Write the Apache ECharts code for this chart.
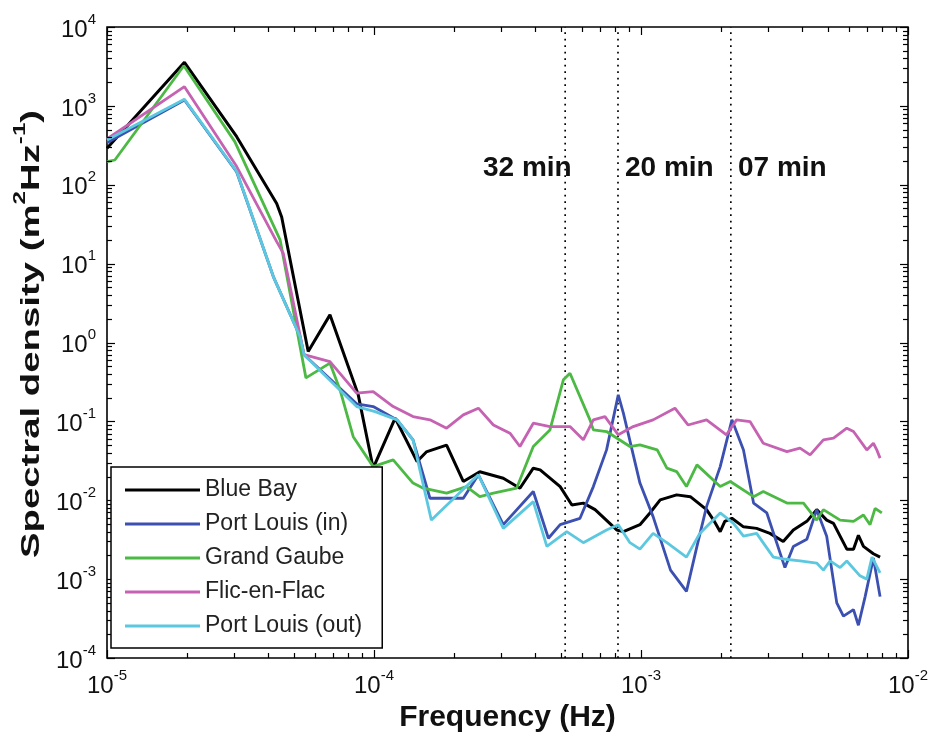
<!DOCTYPE html>
<html>
<head>
<meta charset="utf-8">
<script src="https://cdn.jsdelivr.net/npm/echarts@6.0.0/dist/echarts.min.js"></script>
<style>
html,body{margin:0;padding:0;background:#fff;}
#chart{width:931px;height:742px;}
</style>
</head>
<body>
<div id="chart"></div>
<script>
// ---------------- data ----------------
const seriesNames = ['Blue Bay', 'Port Louis (in)', 'Grand Gaube', 'Flic-en-Flac', 'Port Louis (out)'];
const seriesColors = ['#000000', '#3b50b0', '#4cb944', '#c662b2', '#5cc8e0'];

const blueBayFreq = [1.0e-5, 1.95e-5, 3.06e-5, 4.32e-5, 4.51e-5, 5.67e-5, 6.84e-5, 8.73e-5, 9.93e-5, 1.2e-4, 1.45e-4, 1.57e-4, 1.87e-4, 2.16e-4, 2.49e-4, 3.05e-4, 3.52e-4, 3.95e-4, 4.19e-4, 4.98e-4, 5.51e-4, 6.08e-4, 6.73e-4, 8.11e-4, 8.59e-4, 9.91e-4, 1.08e-3, 1.18e-3, 1.36e-3, 1.53e-3, 1.76e-3, 1.87e-3, 1.98e-3, 2.06e-3, 2.19e-3, 2.42e-3, 2.71e-3, 3.04e-3, 3.41e-3, 3.72e-3, 4.18e-3, 4.55e-3, 4.96e-3, 5.26e-3, 5.90e-3, 6.25e-3, 6.52e-3, 6.81e-3, 7.42e-3, 7.86e-3];
const blueBayPsd = [290, 3570, 407, 58, 39, 0.77, 2.24, 0.217, 0.0255, 0.11, 0.031, 0.041, 0.050, 0.0173, 0.023, 0.019, 0.0142, 0.0255, 0.0243, 0.0149, 0.0087, 0.0092, 0.0076, 0.0042, 0.0040, 0.0049, 0.0069, 0.0101, 0.0117, 0.0111, 0.0076, 0.0056, 0.0040, 0.0054, 0.0059, 0.0046, 0.0044, 0.0038, 0.0030, 0.0042, 0.0054, 0.0076, 0.0056, 0.0051, 0.0024, 0.0024, 0.0036, 0.0026, 0.0021, 0.0019];

const portInFreq = [1.0e-5, 1.95e-5, 3.06e-5, 4.20e-5, 5.28e-5, 5.47e-5, 8.61e-5, 9.93e-5, 1.22e-4, 1.40e-4, 1.62e-4, 1.93e-4, 2.16e-4, 2.46e-4, 3.05e-4, 3.95e-4, 4.50e-4, 4.98e-4, 5.91e-4, 6.63e-4, 7.43e-4, 8.22e-4, 8.59e-4, 9.91e-4, 1.11e-3, 1.29e-3, 1.48e-3, 1.62e-3, 1.76e-3, 1.98e-3, 2.19e-3, 2.42e-3, 2.64e-3, 2.96e-3, 3.46e-3, 3.72e-3, 4.18e-3, 4.55e-3, 4.96e-3, 5.41e-3, 5.73e-3, 6.25e-3, 6.52e-3, 6.91e-3, 7.42e-3, 7.86e-3];
const portInPsd = [340, 1190, 145, 6.8, 1.2, 0.70, 0.167, 0.154, 0.1045, 0.0583, 0.0106, 0.0106, 0.0106, 0.021, 0.0049, 0.0129, 0.0033, 0.0049, 0.0059, 0.0149, 0.0435, 0.217, 0.127, 0.0165, 0.0062, 0.0013, 0.0007, 0.0026, 0.0083, 0.0267, 0.1045, 0.0435, 0.0092, 0.0069, 0.0014, 0.0026, 0.0032, 0.0076, 0.0035, 0.0005, 0.00034, 0.00041, 0.00026, 0.0006, 0.00185, 0.0006];

const grandGaubeFreq = [1.0e-5, 1.07e-5, 1.94e-5, 3.01e-5, 4.45e-5, 5.56e-5, 6.84e-5, 7.46e-5, 8.36e-5, 9.93e-5, 1.18e-4, 1.40e-4, 1.53e-4, 1.87e-4, 2.22e-4, 2.49e-4, 2.80e-4, 3.42e-4, 3.95e-4, 4.56e-4, 5.12e-4, 5.42e-4, 6.44e-4, 6.63e-4, 7.43e-4, 9.09e-4, 9.91e-4, 1.15e-3, 1.25e-3, 1.36e-3, 1.48e-3, 1.62e-3, 1.98e-3, 2.16e-3, 2.64e-3, 2.87e-3, 3.52e-3, 4.06e-3, 4.55e-3, 4.82e-3, 5.57e-3, 6.25e-3, 6.81e-3, 7.21e-3, 7.53e-3, 7.98e-3];
const grandGaubePsd = [196, 206, 3230, 352, 20, 0.356, 0.547, 0.251, 0.064, 0.0267, 0.0325, 0.0165, 0.0142, 0.0123, 0.0149, 0.0111, 0.0123, 0.0142, 0.048, 0.078, 0.336, 0.408, 0.1045, 0.078, 0.0743, 0.048, 0.0504, 0.0435, 0.0255, 0.0231, 0.0149, 0.0281, 0.0149, 0.0173, 0.0111, 0.0129, 0.0092, 0.0092, 0.0056, 0.0076, 0.0056, 0.0054, 0.0065, 0.0049, 0.0079, 0.0069];

const flicFreq = [1.0e-5, 1.95e-5, 3.06e-5, 4.32e-5, 4.57e-5, 5.47e-5, 6.84e-5, 8.61e-5, 9.93e-5, 1.18e-4, 1.40e-4, 1.62e-4, 1.87e-4, 2.16e-4, 2.46e-4, 2.80e-4, 3.23e-4, 3.52e-4, 3.95e-4, 4.56e-4, 5.42e-4, 6.08e-4, 6.63e-4, 7.33e-4, 8.22e-4, 9.35e-4, 1.11e-3, 1.34e-3, 1.50e-3, 1.76e-3, 2.09e-3, 2.28e-3, 2.56e-3, 2.87e-3, 3.52e-3, 3.94e-3, 4.30e-3, 4.82e-3, 5.26e-3, 5.90e-3, 6.25e-3, 7.01e-3, 7.42e-3, 7.64e-3, 7.86e-3];
const flicPsd = [380, 1750, 170, 19, 13.6, 0.70, 0.573, 0.228, 0.239, 0.154, 0.115, 0.1045, 0.082, 0.121, 0.147, 0.090, 0.0708, 0.048, 0.0948, 0.0859, 0.0859, 0.0583, 0.1045, 0.115, 0.0675, 0.0859, 0.1045, 0.147, 0.090, 0.1045, 0.0675, 0.1045, 0.0994, 0.0528, 0.0414, 0.0457, 0.0376, 0.0583, 0.0612, 0.082, 0.0743, 0.0435, 0.0528, 0.0435, 0.0342];

const portOutFreq = [1.0e-5, 1.95e-5, 3.06e-5, 4.20e-5, 5.28e-5, 5.47e-5, 8.61e-5, 1.01e-4, 1.22e-4, 1.40e-4, 1.64e-4, 2.46e-4, 3.05e-4, 3.95e-4, 4.44e-4, 5.27e-4, 6.08e-4, 7.43e-4, 8.22e-4, 9.09e-4, 9.91e-4, 1.11e-3, 1.25e-3, 1.48e-3, 1.66e-3, 1.98e-3, 2.22e-3, 2.42e-3, 2.71e-3, 3.13e-3, 3.41e-3, 3.94e-3, 4.55e-3, 4.82e-3, 5.11e-3, 5.57e-3, 5.90e-3, 6.61e-3, 7.01e-3, 7.33e-3, 7.86e-3];
const portOutPsd = [370, 1210, 147, 6.8, 1.19, 0.70, 0.154, 0.133, 0.1045, 0.0583, 0.0056, 0.021, 0.0044, 0.0096, 0.0026, 0.0040, 0.0029, 0.0042, 0.0049, 0.0029, 0.0024, 0.0038, 0.0029, 0.0019, 0.0038, 0.0069, 0.0051, 0.0035, 0.0038, 0.0019, 0.0018, 0.0017, 0.0016, 0.0013, 0.0017, 0.0014, 0.0017, 0.0011, 0.0010, 0.0019, 0.0012];

// dotted period markers and their labels
const periodFreqs = [5.2e-4, 8.2e-4, 2.17e-3];
const periodLabels = ['32 min', '20 min', '07 min'];

// axis ranges (decades)
const xExpMin = -5, xExpMax = -2;
const yExpMin = -4, yExpMax = 4;

// ---------------- build ----------------
const freqs = [blueBayFreq, portInFreq, grandGaubeFreq, flicFreq, portOutFreq];
const psds = [blueBayPsd, portInPsd, grandGaubePsd, flicPsd, portOutPsd];

function pairs(f, s) { return f.map((v, i) => [v, s[i]]); }

// tick positions for log axes (major length 8, minor 5)
const xTicks = [];
for (let k = xExpMin; k < xExpMax; k++) for (let m = 1; m <= 9; m++) xTicks.push([m * Math.pow(10, k), 1, m === 1 ? 8 : 5]);
xTicks.push([Math.pow(10, xExpMax), 1, 8]);
const yTicks = [];
for (let k = yExpMin; k < yExpMax; k++) for (let m = 1; m <= 9; m++) yTicks.push([1e-4, m * Math.pow(10, k), m === 1 ? 8 : 5]);
yTicks.push([1e-4, Math.pow(10, yExpMax), 8]);

const FONT = "'Liberation Sans', Arial, Helvetica, sans-serif";

function expLabel(v) {
  const e = Math.round(Math.log10(v));
  return '{b|10}{s|' + e + '}';
}
const labelRich = {
  b: { fontSize: 24, fontFamily: FONT, color: '#111', verticalAlign: 'bottom', lineHeight: 30 },
  s: { fontSize: 15, fontFamily: FONT, color: '#111', verticalAlign: 'top', lineHeight: 15 }
};

const chart = echarts.init(document.getElementById('chart'), null, { renderer: 'canvas' });

const yMinVal = Math.pow(10, yExpMin), yMaxVal = Math.pow(10, yExpMax);

const periodSeries = periodFreqs.map((f, i) => ({
  name: 'period' + i,
  type: 'line',
  data: [[f, yMinVal], [f, yMaxVal]],
  showSymbol: false,
  symbol: 'none',
  silent: true,
  z: 1,
  lineStyle: { color: '#000', width: 1.7, type: [1.7, 4.8] },
  emphasis: { disabled: true }
}));

const lineSeries = seriesNames.map((name, i) => ({
  name: name,
  type: 'line',
  data: pairs(freqs[i], psds[i]),
  showSymbol: false,
  symbol: 'none',
  smooth: false,
  clip: true,
  z: 3 + i,
  lineStyle: { color: seriesColors[i], width: i === 0 ? 3 : 2.8 },
  itemStyle: { color: seriesColors[i] },
  emphasis: { disabled: true }
}));

function tickRender(horizontal) {
  return function (params, api) {
    const cs = params.coordSys;
    const p = api.coord([api.value(0), api.value(1)]);
    const len = api.value(2);
    const st = { stroke: '#000', lineWidth: 1.2 };
    if (horizontal) {
      const x = Math.round(p[0]) + 0.5;
      return { type: 'group', children: [
        { type: 'line', shape: { x1: x, y1: cs.y + cs.height, x2: x, y2: cs.y + cs.height - len }, style: st },
        { type: 'line', shape: { x1: x, y1: cs.y, x2: x, y2: cs.y + len }, style: st }
      ]};
    } else {
      const y = Math.round(p[1]) + 0.5;
      return { type: 'group', children: [
        { type: 'line', shape: { x1: cs.x, y1: y, x2: cs.x + len, y2: y }, style: st },
        { type: 'line', shape: { x1: cs.x + cs.width, y1: y, x2: cs.x + cs.width - len, y2: y }, style: st }
      ]};
    }
  };
}

const option = {
  backgroundColor: '#ffffff',
  animation: false,
  grid: {
    left: 107, right: 23, top: 27, bottom: 84,
    show: true, borderColor: '#000', borderWidth: 1.6, backgroundColor: 'transparent',
    outerBoundsMode: 'none'
  },
  xAxis: {
    type: 'log', logBase: 10,
    min: Math.pow(10, xExpMin), max: Math.pow(10, xExpMax),
    splitNumber: xExpMax - xExpMin,
    axisLine: { show: false },
    axisTick: { show: false },
    splitLine: { show: false },
    minorTick: { show: false },
    axisLabel: { formatter: expLabel, rich: labelRich, margin: 10, showMinLabel: true, showMaxLabel: true, hideOverlap: false },
    name: 'Frequency (Hz)',
    nameLocation: 'middle',
    nameGap: 43,
    nameTextStyle: { fontSize: 30, fontWeight: 'bold', fontFamily: FONT, color: '#111' }
  },
  yAxis: {
    type: 'log', logBase: 10,
    min: yMinVal, max: yMaxVal,
    splitNumber: yExpMax - yExpMin,
    axisLine: { show: false },
    axisTick: { show: false },
    splitLine: { show: false },
    minorTick: { show: false },
    axisLabel: { formatter: expLabel, rich: labelRich, margin: 11, showMinLabel: true, showMaxLabel: true, hideOverlap: false }
  },
  legend: {
    data: seriesNames,
    orient: 'vertical',
    left: 111, top: 467,
    icon: 'rect',
    itemWidth: 75, itemHeight: 3,
    itemGap: 10,
    padding: [11, 20, 10, 14],
    backgroundColor: '#ffffff',
    borderColor: '#000', borderWidth: 1.5, borderRadius: 0,
    selectedMode: false,
    z: 20,
    textStyle: { fontSize: 23, fontFamily: FONT, color: '#222', lineHeight: 24 }
  },
  graphic: [
    {
      type: 'text', x: 29, y: 334, rotation: Math.PI / 2, scaleX: 1.42, scaleY: 0.95, z: 50,
      style: {
        text: '{t|Spectral density (m}{s|2}{t|Hz}{s|-1}{t|)}',
        align: 'center', verticalAlign: 'middle', textAlign: 'center', textVerticalAlign: 'middle',
        rich: {
          t: { fontSize: 27, fontWeight: 'bold', fontFamily: FONT, fill: '#111', verticalAlign: 'bottom', lineHeight: 34 },
          s: { fontSize: 17, fontWeight: 'bold', fontFamily: FONT, fill: '#111', verticalAlign: 'top', lineHeight: 17 }
        }
      }
    },
    { type: 'text', x: 483, y: 168, z: 50, style: { text: periodLabels[0], font: 'bold 28px ' + FONT, fill: '#111', align: 'left', verticalAlign: 'middle', textVerticalAlign: 'middle' } },
    { type: 'text', x: 625, y: 168, z: 50, style: { text: periodLabels[1], font: 'bold 28px ' + FONT, fill: '#111', align: 'left', verticalAlign: 'middle', textVerticalAlign: 'middle' } },
    { type: 'text', x: 738, y: 168, z: 50, style: { text: periodLabels[2], font: 'bold 28px ' + FONT, fill: '#111', align: 'left', verticalAlign: 'middle', textVerticalAlign: 'middle' } }
  ],
  series: periodSeries.concat(lineSeries).concat([
    { type: 'custom', name: 'xticks', data: xTicks, renderItem: tickRender(true), silent: true, clip: false, z: 10, encode: { x: 0, y: 1 } },
    { type: 'custom', name: 'yticks', data: yTicks, renderItem: tickRender(false), silent: true, clip: false, z: 10, encode: { x: 0, y: 1 } }
  ])
};

chart.setOption(option);
</script>
</body>
</html>
